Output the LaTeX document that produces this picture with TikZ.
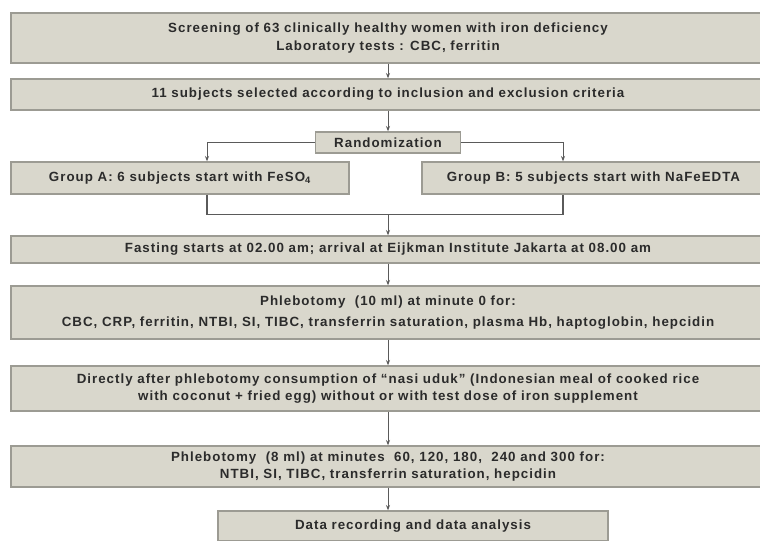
\documentclass[tikz,border=0pt]{standalone}
\usepackage{fontspec}
\setmainfont[LetterSpace=7.5]{Liberation Sans}
\usetikzlibrary{arrows.meta, positioning, calc}
\definecolor{BoxFill}{HTML}{D9D7CC}
\definecolor{BoxEdge}{HTML}{9C9B93}
\definecolor{TextGray}{HTML}{2B2B2B}
\definecolor{LineGray}{HTML}{5A5A5A}

\begin{document}
\begin{tikzpicture}[
  x=0.75pt, y=-0.75pt,
  every node/.style = {font=\fontsize{10}{13}\selectfont\bfseries, text=TextGray},
  block/.style = {
    rectangle, draw=BoxEdge, line width=1pt, fill=BoxFill,
    align=center, inner sep=2pt
  },
  wideblock/.style = {block, minimum width=565.5pt},
  arr/.style       = {-{Stealth[length=4pt, width=3pt]}, line width=0.6pt, color=LineGray},
  link/.style      = {line width=0.8pt, color=LineGray},
]
\useasboundingbox[fill=white] (0,0) rectangle (760,541);

% Screening Node
\node[wideblock, minimum height=37.5pt] (screen) at (388,38) {%
  Screening of 63 clinically healthy women with iron deficiency\\
  Laboratory tests : CBC, ferritin
};

% Selection Node
\node[wideblock, minimum height=23.25pt, below=11pt of screen] (select)
      {11 subjects selected according to inclusion and exclusion criteria};

% Randomization
\node[block, minimum width=108.75pt, minimum height=15.75pt, below=15.5pt of select] (rand)
      {Randomization};

% Group row
\node[block, minimum width=253.5pt, minimum height=24pt,
      below=5.75pt of rand, xshift=-156pt] (grpA)
      {Group A: 6 subjects start with FeSO\textsubscript{4}};

\node[block, minimum width=257.25pt, minimum height=24pt,
      below=5.75pt of rand, xshift=154.125pt] (grpB)
      {Group B: 5 subjects start with NaFeEDTA};

\coordinate (join) at ($(grpA.south -| rand.south)+(0,20)$);

% Fasting Node
\node[wideblock, minimum height=20.25pt, below=15.5pt of join] (fast)
      {Fasting starts at 02.00 am; arrival at Eijkman Institute Jakarta at 08.00 am};

% Phlebotomy at minute 0
\node[wideblock, minimum height=39.75pt, below=16.25pt of fast] (phlebA) {%
  Phlebotomy\ \ (10 ml) at minute 0 for:\\[3pt]
  CBC, CRP, ferritin, NTBI, SI, TIBC, transferrin saturation, plasma Hb, haptoglobin, hepcidin
};

% Meal Node
\node[wideblock, minimum height=33.75pt, below=19.25pt of phlebA] (meal) {%
  Directly after phlebotomy consumption of ``nasi uduk'' (Indonesian meal of cooked rice\\
  with coconut + fried egg) without or with test dose of iron supplement
};

% Phlebotomy at later minutes
\node[wideblock, minimum height=30.75pt, below=25.25pt of meal] (phlebB) {%
  Phlebotomy\ \ (8 ml) at minutes\ \ 60, 120, 180,\ \ 240 and 300 for:\\
  NTBI, SI, TIBC, transferrin saturation, hepcidin
};

% Data Node
\node[block, minimum width=292.5pt, minimum height=22.5pt,
      below=17pt of phlebB, xshift=18.75pt] (data)
      {Data recording and data analysis};

% Arrows
\draw[arr] (screen) -- (select);
\draw[arr] (select) -- (rand);
\draw[arr] (rand.west) -| ([xshift=20.25pt]grpA.north);
\draw[arr] (rand.east) -| ([xshift=-22.875pt]grpB.north);
\draw[link] ([xshift=20.25pt]grpA.south) |- (join);
\draw[link] ([xshift=-22.875pt]grpB.south) |- (join);
\draw[arr] (join) -- (fast);
\draw[arr] (fast) -- (phlebA);
\draw[arr] (phlebA) -- (meal);
\draw[arr] (meal) -- (phlebB);
\draw[arr] (phlebB) -- (phlebB |- data.north);

\end{tikzpicture}
\end{document}
